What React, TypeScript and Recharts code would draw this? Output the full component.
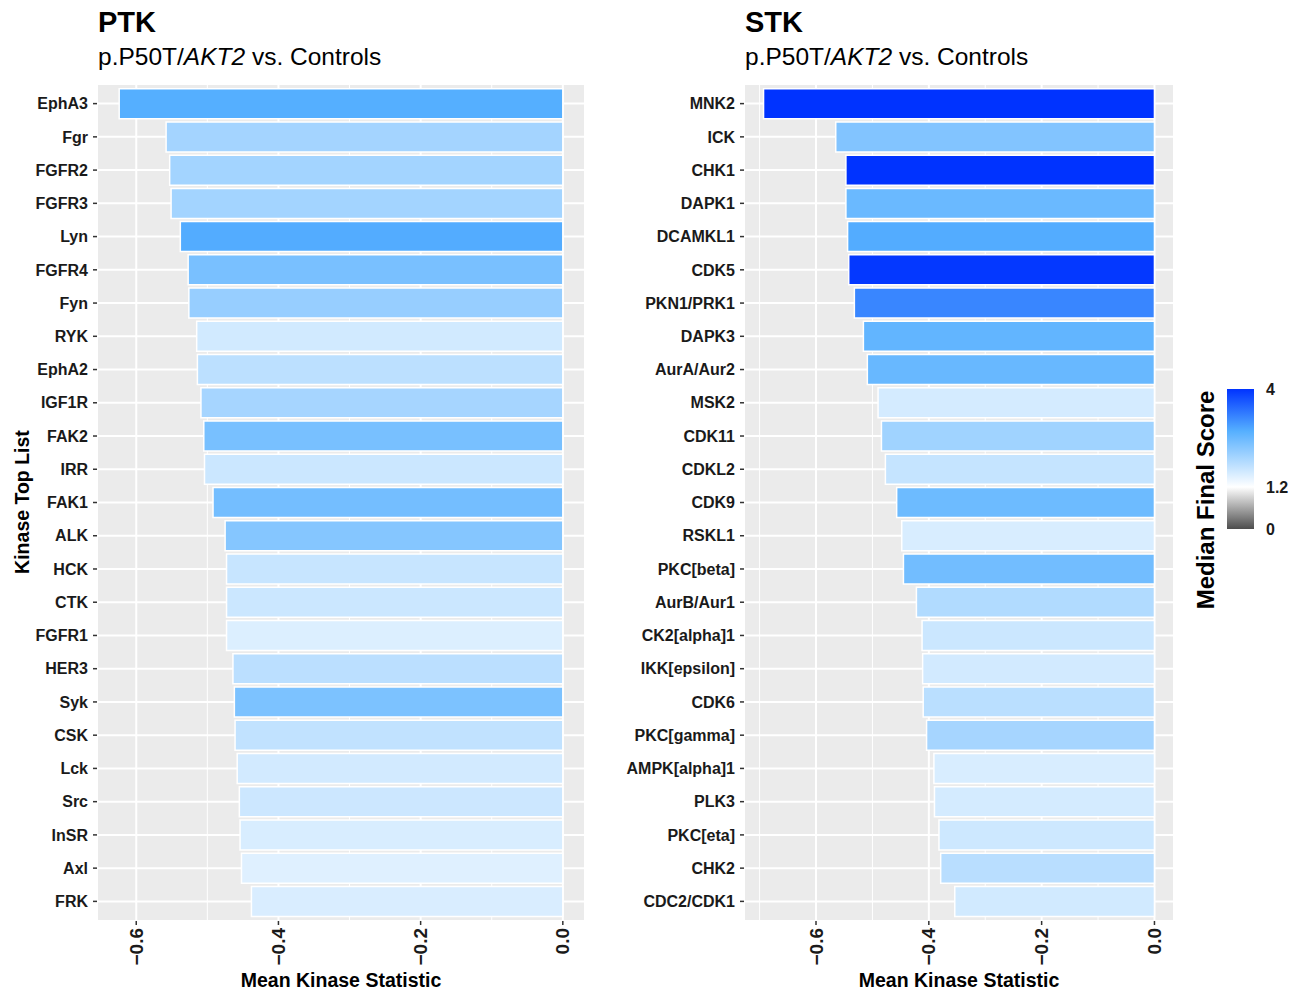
import React from 'react';
import { BarChart, Bar, XAxis, YAxis, CartesianGrid, Cell } from 'recharts';

const ptkKinases = ['EphA3', 'Fgr', 'FGFR2', 'FGFR3', 'Lyn', 'FGFR4', 'Fyn', 'RYK', 'EphA2', 'IGF1R', 'FAK2', 'IRR', 'FAK1', 'ALK', 'HCK', 'CTK', 'FGFR1', 'HER3', 'Syk', 'CSK', 'Lck', 'Src', 'InSR', 'Axl', 'FRK'];
const ptkStat = [-0.624, -0.558, -0.553, -0.551, -0.538, -0.527, -0.526, -0.515, -0.514, -0.509, -0.505, -0.504, -0.492, -0.475, -0.473, -0.473, -0.473, -0.464, -0.462, -0.461, -0.458, -0.455, -0.454, -0.452, -0.438];
const ptkScore = [2.8, 2.06, 2.07, 2.07, 2.83, 2.46, 2.18, 1.63, 1.83, 2.04, 2.47, 1.69, 2.51, 2.35, 1.73, 1.69, 1.53, 1.84, 2.43, 1.78, 1.62, 1.68, 1.57, 1.5, 1.56];

const stkKinases = ['MNK2', 'ICK', 'CHK1', 'DAPK1', 'DCAMKL1', 'CDK5', 'PKN1/PRK1', 'DAPK3', 'AurA/Aur2', 'MSK2', 'CDK11', 'CDKL2', 'CDK9', 'RSKL1', 'PKC[beta]', 'AurB/Aur1', 'CK2[alpha]1', 'IKK[epsilon]', 'CDK6', 'PKC[gamma]', 'AMPK[alpha]1', 'PLK3', 'PKC[eta]', 'CHK2', 'CDC2/CDK1'];
const stkStat = [-0.693, -0.565, -0.547, -0.547, -0.544, -0.542, -0.532, -0.516, -0.509, -0.49, -0.484, -0.477, -0.457, -0.448, -0.445, -0.422, -0.412, -0.411, -0.41, -0.404, -0.391, -0.39, -0.382, -0.379, -0.354];
const stkScore = [4, 2.38, 4, 2.6, 2.83, 3.95, 3.2, 2.68, 2.62, 1.6, 2.09, 1.75, 2.57, 1.57, 2.53, 1.93, 1.69, 1.62, 1.85, 2.04, 1.57, 1.6, 1.67, 1.86, 1.63];

const majorTicks = [-0.6, -0.4, -0.2, 0];
const minorTicks = [-0.7, -0.5, -0.3, -0.1];
const legendTicks = [0, 1.2, 4];

const scoreStops = [0, 1.2, 2.8, 4];
const stopColors = [[77, 77, 77], [255, 255, 255], [85, 175, 255], [0, 51, 255]];

const FONT = '"Liberation Sans", Arial, Helvetica, sans-serif';

function scoreColor(s: number) {
  const v = Math.max(0, Math.min(4, s));
  let i = 0;
  while (i < scoreStops.length - 2 && v > scoreStops[i + 1]) i++;
  const t = (v - scoreStops[i]) / (scoreStops[i + 1] - scoreStops[i]);
  const a = stopColors[i];
  const b = stopColors[i + 1];
  const c = a.map((x, k) => Math.round(x + (b[k] - x) * t));
  return `rgb(${c[0]},${c[1]},${c[2]})`;
}

const fmt = (v: number) => (v === 0 ? '0.0' : '\u2212' + Math.abs(v).toFixed(1));

const XTick = (props: any) => {
  const { x, y, payload } = props;
  return (
    <text
      x={x}
      y={y + 1}
      transform={`rotate(-90, ${x}, ${y + 1})`}
      textAnchor="end"
      dominantBaseline="central"
      fontFamily={FONT}
      fontWeight="bold"
      fontSize={19}
      fill="#1a1a1a"
    >
      {fmt(payload.value)}
    </text>
  );
};

interface PanelProps {
  kinases: string[];
  stats: number[];
  scores: number[];
  left: number;
  yAxisWidth: number;
  marginRight: number;
}

const Panel: React.FC<PanelProps> = ({ kinases, stats, scores, left, yAxisWidth, marginRight }) => {
  const data = kinases.map((name, i) => ({ name, stat: stats[i], score: scores[i] }));
  const lo = Math.min(...stats);
  const pad = 0.05 * (0 - lo);
  const domain: [number, number] = [lo - pad, pad];
  const minor = minorTicks.filter((v) => v > domain[0] && v < domain[1]);

  // minor vertical lines, placed from the axis domain
  const minorGen = (args: any) => {
    const off = args.offset;
    return minor.map((v) => off.left + ((v - domain[0]) / (domain[1] - domain[0])) * off.width);
  };

  return (
    <div style={{ position: 'absolute', left, top: 0 }}>
      <BarChart
        width={600}
        height={991}
        data={data}
        layout="vertical"
        margin={{ top: 84, right: marginRight, bottom: 0, left: 0 }}
        barCategoryGap="5%"
      >
        <CartesianGrid fill="#EBEBEB" horizontal={false} stroke="#ffffff" strokeWidth={1} verticalCoordinatesGenerator={minorGen} />
        <CartesianGrid stroke="#ffffff" strokeWidth={2} />
        <XAxis
          type="number"
          domain={domain}
          ticks={majorTicks}
          allowDataOverflow
          height={70}
          axisLine={false}
          tickSize={4}
          tickMargin={2}
          tickLine={{ stroke: '#333333', strokeWidth: 1.5 }}
          tick={<XTick />}
          interval={0}
        />
        <YAxis
          type="category"
          dataKey="name"
          width={yAxisWidth}
          axisLine={false}
          tickSize={4}
          tickMargin={5}
          tickLine={{ stroke: '#333333', strokeWidth: 1.5 }}
          tick={{ fill: '#1a1a1a', fontSize: 16, fontWeight: 'bold', fontFamily: FONT }}
          interval={0}
          padding={{ top: 3, bottom: 3 }}
        />
        <Bar dataKey="stat" stroke="#ffffff" strokeWidth={1.5} isAnimationActive={false}>
          {data.map((d) => (
            <Cell key={d.name} fill={scoreColor(d.score)} />
          ))}
        </Bar>
      </BarChart>
    </div>
  );
};

const Titles: React.FC<{ x: number; title: string }> = ({ x, title }) => (
  <>
    <text x={x} y={32} fontFamily={FONT} fontWeight="bold" fontSize={29} fill="#000">
      {title}
    </text>
    <text x={x} y={65} fontFamily={FONT} fontSize={24.5} fill="#000">
      p.P50T/<tspan fontStyle="italic">AKT2</tspan> vs. Controls
    </text>
  </>
);

export default function App() {
  const barTop = 389;
  const barBottom = 529;
  const toY = (s: number) => barBottom - (s / 4) * (barBottom - barTop);
  return (
    <div style={{ position: 'absolute', left: 0, top: 0, width: 1299, height: 991, background: '#fff', overflow: 'hidden' }}>
      <Panel kinases={ptkKinases} stats={ptkStat} scores={ptkScore} left={0} yAxisWidth={97} marginRight={15} />
      <Panel kinases={stkKinases} stats={stkStat} scores={stkScore} left={600} yAxisWidth={144} marginRight={26} />
      <svg width={1299} height={991} style={{ position: 'absolute', left: 0, top: 0, pointerEvents: 'none' }}>
        <defs>
          <linearGradient id="scoreGrad" x1="0" y1="1" x2="0" y2="0">
            {scoreStops.map((s, i) => (
              <stop key={s} offset={s / 4} stopColor={`rgb(${stopColors[i].join(',')})`} />
            ))}
          </linearGradient>
        </defs>
        <Titles x={98} title="PTK" />
        <Titles x={745} title="STK" />
        <text x={341} y={987} textAnchor="middle" fontFamily={FONT} fontWeight="bold" fontSize={19.5} fill="#000">
          Mean Kinase Statistic
        </text>
        <text x={959} y={987} textAnchor="middle" fontFamily={FONT} fontWeight="bold" fontSize={19.5} fill="#000">
          Mean Kinase Statistic
        </text>
        <text
          x={22}
          y={502}
          transform="rotate(-90, 22, 502)"
          textAnchor="middle"
          dominantBaseline="central"
          fontFamily={FONT}
          fontWeight="bold"
          fontSize={19.5}
          fill="#000"
        >
          Kinase Top List
        </text>
        <text
          x={1205}
          y={500}
          transform="rotate(-90, 1205, 500)"
          textAnchor="middle"
          dominantBaseline="central"
          fontFamily={FONT}
          fontWeight="bold"
          fontSize={24}
          fill="#000"
        >
          Median Final Score
        </text>
        <rect x={1227} y={barTop} width={27} height={barBottom - barTop} fill="url(#scoreGrad)" />
        {legendTicks.map((t) => (
          <text key={t} x={1266} y={toY(t)} dominantBaseline="central" fontFamily={FONT} fontWeight="bold" fontSize={16} fill="#1a1a1a">
            {t}
          </text>
        ))}
      </svg>
    </div>
  );
}
